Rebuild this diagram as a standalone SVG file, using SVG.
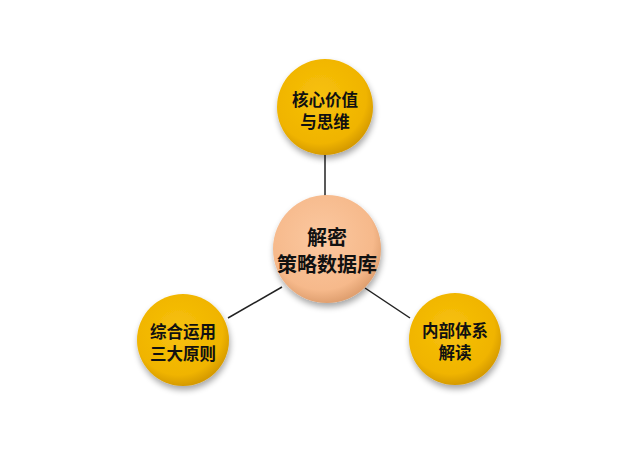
<svg xmlns="http://www.w3.org/2000/svg" width="640" height="453" viewBox="0 0 640 453">
<defs>
<radialGradient id="gy" cx="45%" cy="40%" r="60%">
<stop offset="0" stop-color="#F7C10C"/>
<stop offset="0.8" stop-color="#F0B400"/>
<stop offset="1" stop-color="#D59A00"/>
</radialGradient>
<radialGradient id="gp" cx="45%" cy="40%" r="60%">
<stop offset="0" stop-color="#FBC8A0"/>
<stop offset="0.8" stop-color="#F6B98B"/>
<stop offset="1" stop-color="#E0A070"/>
</radialGradient>
<filter id="sh" x="-30%" y="-30%" width="160%" height="170%">
<feGaussianBlur in="SourceAlpha" stdDeviation="3"/>
<feOffset dx="1" dy="4"/>
<feComponentTransfer><feFuncA type="linear" slope="0.35"/></feComponentTransfer>
<feMerge><feMergeNode/><feMergeNode in="SourceGraphic"/></feMerge>
</filter>
</defs>
<style>
.t{font-family:"Noto Sans CJK SC","Noto Sans",sans-serif;font-weight:bold;fill:#111;text-anchor:middle}
.s{font-size:16.5px}
.b{font-size:20px}
.c{stroke:#222;stroke-width:1.5;fill:none}
</style>
<rect width="640" height="453" fill="#fff"/>
<g id="connectors">
<line class="c" x1="325" y1="154" x2="325" y2="197"/>
<line class="c" x1="282" y1="287" x2="228" y2="318"/>
<line class="c" x1="365" y1="288" x2="410" y2="318"/>
</g>
<g id="top">
<circle cx="325" cy="107" r="48" fill="url(#gy)" filter="url(#sh)"/>
<text class="t s" x="325" y="106">核心价值</text>
<text class="t s" x="325" y="128">与思维</text>
</g>
<g id="center">
<circle cx="327" cy="249" r="54" fill="url(#gp)" filter="url(#sh)"/>
<text class="t b" x="327" y="245">解密</text>
<text class="t b" x="327" y="272">策略数据库</text>
</g>
<g id="left">
<circle cx="183" cy="340" r="46" fill="url(#gy)" filter="url(#sh)"/>
<text class="t s" x="183" y="338">综合运用</text>
<text class="t s" x="183" y="360">三大原则</text>
</g>
<g id="right">
<circle cx="455" cy="339" r="46" fill="url(#gy)" filter="url(#sh)"/>
<text class="t s" x="455" y="337">内部体系</text>
<text class="t s" x="455" y="359">解读</text>
</g>
</svg>
